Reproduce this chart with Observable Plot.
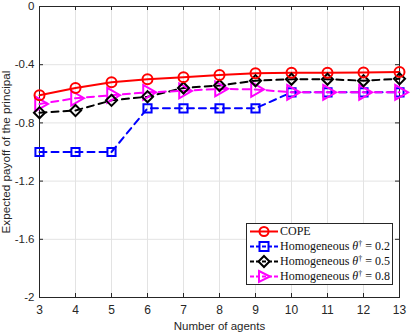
<!DOCTYPE html>
<html><head><meta charset="utf-8">
<script src="https://cdn.jsdelivr.net/npm/d3@7"></script>
<script src="https://cdn.jsdelivr.net/npm/@observablehq/plot@0.6"></script>
<style>
body{margin:0;background:#fff}
#wrap{position:relative;width:416px;height:333px}
#legend{position:absolute;left:246px;top:223px;width:145px;height:60px;border:1px solid #262626;background:#fff;font-family:"Liberation Serif","DejaVu Serif",serif;font-size:12px;color:#111;padding-top:0px}
#legend .row{display:flex;align-items:center;height:15px;white-space:nowrap}
#legend svg{flex:none;margin-right:0px}
</style>
</head><body><div id="wrap"></div>
<script>
const agents = [3,4,5,6,7,8,9,10,11,12,13];
const cope   = [-0.61,-0.56,-0.52,-0.50,-0.486,-0.47,-0.458,-0.455,-0.455,-0.453,-0.45];
const homo02 = [-1.0,-1.0,-1.0,-0.70,-0.70,-0.70,-0.70,-0.59,-0.59,-0.59,-0.59];
const homo05 = [-0.73,-0.715,-0.645,-0.62,-0.56,-0.543,-0.51,-0.50,-0.50,-0.51,-0.497];
const homo08 = [-0.67,-0.63,-0.61,-0.59,-0.58,-0.566,-0.57,-0.59,-0.59,-0.59,-0.59];
const seriesNames = ["COPE","Homogeneous θ† = 0.2","Homogeneous θ† = 0.5","Homogeneous θ† = 0.8"];
const colors = ["#ff0000","#0000ff","#000000","#ff00ff"];
const xTicks = [3,4,5,6,7,8,9,10,11,12,13];
const yTicks = [0,-0.4,-0.8,-1.2,-1.6,-2];
const yTickLabels = ["0","-0.4","-0.8","-1.2","-1.6","-2"];

const allVals = [cope,homo02,homo05,homo08];
const data = [];
allVals.forEach((vals,si)=>vals.forEach((v,i)=>data.push({series:seriesNames[si],x:agents[i],y:v})));
const of = s => data.filter(d=>d.series===s);

const W=416,H=333,mL=39,mR=17,mT=6,mB=36;
const pw=W-mL-mR, ph=H-mT-mB;
const axisColor="#262626";
const fontA='"Liberation Sans", Arial, sans-serif';

const chart = Plot.plot({
  width:W,height:H,marginLeft:mL,marginRight:mR,marginTop:mT,marginBottom:mB,
  style:{fontFamily:fontA,fontSize:"11px",color:axisColor,background:"#fff"},
  x:{domain:[3,13],ticks:xTicks},
  y:{domain:[-2,0],ticks:yTicks},
  marks:[
    Plot.gridX(xTicks,{stroke:"#e3e3e3",strokeOpacity:1}),
    Plot.gridY(yTicks,{stroke:"#e3e3e3",strokeOpacity:1}),
    Plot.tickX(xTicks,{x:d=>d,insetTop:ph-4,stroke:axisColor}),
    Plot.tickX(xTicks,{x:d=>d,insetBottom:ph-4,stroke:axisColor}),
    Plot.tickY(yTicks,{y:d=>d,insetRight:pw-4,stroke:axisColor}),
    Plot.tickY(yTicks,{y:d=>d,insetLeft:pw-4,stroke:axisColor}),
    Plot.frame({stroke:axisColor,strokeWidth:1}),
    Plot.axisX(xTicks,{tickSize:0,tickPadding:8,fontSize:12,label:null,tickFormat:d=>String(d)}),
    Plot.axisY(yTicks,{tickSize:0,tickPadding:5,fontSize:11.5,label:null,tickFormat:(d,i)=>yTickLabels[i]}),
    Plot.text(["Number of agents"],{frameAnchor:"bottom",dy:32,fontSize:11.5,fill:axisColor}),
    Plot.text(["Expected payoff of the principal"],{frameAnchor:"left",dx:-33,rotate:-90,textAnchor:"middle",fontSize:11.7,fill:axisColor}),
    Plot.line(of(seriesNames[0]),{x:"x",y:"y",stroke:colors[0],strokeWidth:2}),
    Plot.line(of(seriesNames[1]),{x:"x",y:"y",stroke:colors[1],strokeWidth:2,strokeDasharray:"7,5"}),
    Plot.line(of(seriesNames[2]),{x:"x",y:"y",stroke:colors[2],strokeWidth:2,strokeDasharray:"7,5"}),
    Plot.line(of(seriesNames[3]),{x:"x",y:"y",stroke:colors[3],strokeWidth:2,strokeDasharray:"7,5"}),
    Plot.dot(of(seriesNames[1]),{x:"x",y:"y",stroke:colors[1],symbol:"square",r:4.6,strokeWidth:2,fill:"none"}),
    Plot.dot(of(seriesNames[3]),{x:"x",y:"y",stroke:colors[3],symbol:"triangle",rotate:90,r:5.5,strokeWidth:2,fill:"none"}),
    Plot.dot(of(seriesNames[2]),{x:"x",y:"y",stroke:colors[2],symbol:"diamond2",r:5,strokeWidth:2,fill:"none"}),
    Plot.dot(of(seriesNames[0]),{x:"x",y:"y",stroke:colors[0],symbol:"circle",r:5,strokeWidth:2,fill:"none"})
  ]
});
const wrap=document.getElementById("wrap");
wrap.appendChild(chart);

// legend
const leg=document.createElement("div");leg.id="legend";
const shapes=[
  c=>`<circle cx="17" cy="7.5" r="4.5" fill="none" stroke="${c}" stroke-width="2"/>`,
  c=>`<rect x="12.5" y="3" width="9" height="9" fill="none" stroke="${c}" stroke-width="2"/>`,
  c=>`<path d="M17,2L22.5,7.5L17,13L11.5,7.5Z" fill="none" stroke="${c}" stroke-width="2"/>`,
  c=>`<path d="M12,2L23,7.5L12,13Z" fill="none" stroke="${c}" stroke-width="2"/>`
];
const labels=[
  "COPE",
  "Homogeneous <i>θ</i><sup style='font-size:8px;vertical-align:4px;line-height:0'>†</sup> = 0.2",
  "Homogeneous <i>θ</i><sup style='font-size:8px;vertical-align:4px;line-height:0'>†</sup> = 0.5",
  "Homogeneous <i>θ</i><sup style='font-size:8px;vertical-align:4px;line-height:0'>†</sup> = 0.8"
];
seriesNames.forEach((s,i)=>{
  const dash = i===0? "" : "stroke-dasharray='4,2'";
  const row=document.createElement("div");row.className="row";
  row.innerHTML=`<svg width="33" height="15"><line x1="3" y1="7.5" x2="31" y2="7.5" stroke="${colors[i]}" stroke-width="2" ${dash}/>${shapes[i](colors[i])}</svg><span>${labels[i]}</span>`;
  leg.appendChild(row);
});
wrap.appendChild(leg);
</script>
</body></html>
